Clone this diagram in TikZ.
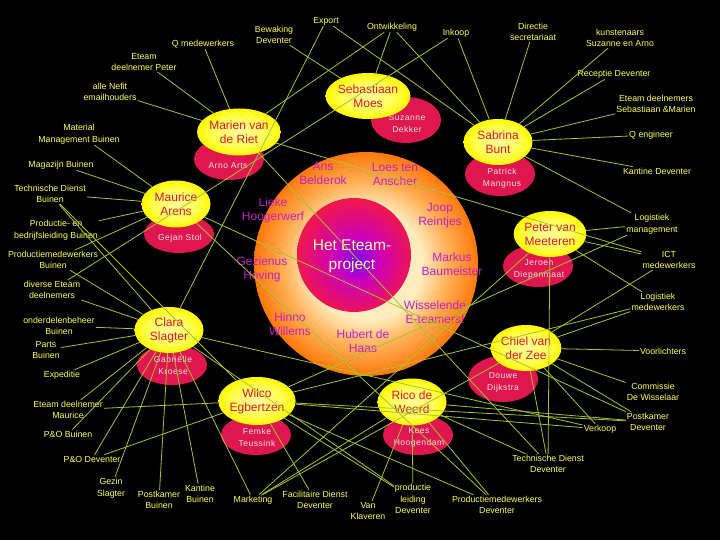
\documentclass[tikz,border=0pt]{standalone}
\usepackage{fontspec}
\setmainfont{Liberation Sans}
\newfontfamily\spaced[LetterSpace=6]{Liberation Sans}
\usetikzlibrary{shapes.geometric}
\definecolor{lbl}{RGB}{255,255,70}
\definecolor{lnk}{RGB}{165,195,45}
\definecolor{crim}{RGB}{224,22,78}
\definecolor{nametxt}{RGB}{225,20,50}
\definecolor{pinktxt}{RGB}{255,228,236}
\definecolor{perscol}{RGB}{195,30,200}
\definecolor{hubtxt}{RGB}{255,255,170}
\definecolor{ringin}{RGB}{255,236,190}
\definecolor{ringmid}{RGB}{255,175,85}
\definecolor{ringout}{RGB}{255,120,10}
\definecolor{corein}{RGB}{125,0,245}
\definecolor{coremid}{RGB}{205,0,185}
\definecolor{coreout}{RGB}{238,22,80}
\definecolor{yelin}{RGB}{255,255,150}
\definecolor{yelmid}{RGB}{255,255,90}
\definecolor{yelout}{RGB}{255,248,0}
\pgfdeclareradialshading{ringshade}{\pgfpoint{0bp}{0bp}}{color(0bp)=(ringin); color(12.5bp)=(ringin); color(18.5bp)=(ringmid); color(25bp)=(ringout); color(50bp)=(ringout)}
\pgfdeclareradialshading{coreshade}{\pgfpoint{1.5bp}{-2.5bp}}{color(0bp)=(corein); color(10bp)=(coremid); color(25bp)=(coreout); color(50bp)=(coreout)}
\pgfdeclareradialshading{yelshade}{\pgfpoint{0bp}{0bp}}{color(0bp)=(yelin); color(15bp)=(yelmid); color(25bp)=(yelout); color(50bp)=(yelout)}
\begin{document}
\begin{tikzpicture}[x=1pt, y=-1pt,
	mem/.style = {ellipse, minimum width=69pt, minimum height=46pt, inner sep=0pt, shade, shading=yelshade, text=nametxt, align=center, font=\fontsize{12}{14}\selectfont},
	sub/.style = {ellipse, minimum width=70pt, minimum height=42pt, inner sep=0pt, fill=crim},
	subtxt/.style = {text=pinktxt, align=center, font=\spaced\fontsize{8.5}{12}\selectfont},
	pers/.style = {text=perscol, align=center, font=\fontsize{12}{14}\selectfont},
	lab/.style = {text=lbl, align=center, inner sep=1pt, font=\fontsize{8.8}{11.5}\selectfont}]

	\fill [black, use as bounding box] (0,0) rectangle (720,540);

	\node [circle, minimum size=224pt, inner sep=0pt, shade, shading=ringshade] (ring) at (366,264) {};
	\node [circle, minimum size=114pt, inner sep=0pt, shade, shading=coreshade] (core) at (354,255) {};
	\node [text=hubtxt, align=center, font=\fontsize{15.5}{19}\selectfont] (hub) at (352,256) {Het Eteam-\\project};

	\node [pers] (ans) at (323,173) {Ans\\Belderok};
	\node [pers] (loes) at (395,174) {Loes ten\\Anscher};
	\node [pers] (lieke) at (273,210) {Lieke\\Hoogerwerf};
	\node [pers] (joop) at (440,216) {Joop\\Reintjes};
	\node [pers] (gezienus) at (262,269) {Gezienus\\Hoving};
	\node [pers] (markus) at (452,264) {Markus\\Baumeister};
	\node [pers] (hinno) at (290,324) {Hinno\\Willems};
	\node [pers] (wissel) at (435,312) {Wisselende\\E-teamers!};
	\node [pers] (hubert) at (363,341) {Hubert de\\Haas};

	\node [sub] (marienB) at (229,159) {};
	\node [sub, minimum height=46pt] (sebB) at (406,120) {};
	\node [sub, minimum height=44pt] (sabB) at (500,174) {};
	\node [sub, minimum height=38pt] (maurB) at (179,234) {};
	\node [sub] (peterB) at (538,266) {};
	\node [sub, minimum height=40pt] (claraB) at (172,365) {};
	\node [sub, minimum height=46pt] (chielB) at (503,379) {};
	\node [sub, minimum height=40pt] (wilcoB) at (256,435) {};
	\node [sub, minimum height=40pt] (ricoB) at (418,435) {};

	\node [subtxt] (arno) at (228,166) {Arno Arts};
	\node [subtxt] (suzanne) at (407,124) {Suzanne\\Dekker};
	\node [subtxt] (patrick) at (502,178) {Patrick\\Mangnus};
	\node [subtxt] (gejan) at (180,238) {Gejan Stol};
	\node [subtxt] (jeroen) at (539,269) {Jeroen\\Diepenmaat};
	\node [subtxt] (gabrielle) at (173,365) {Gabriëlle\\Kroese};
	\node [subtxt] (douwe) at (503,382) {Douwe\\Dijkstra};
	\node [subtxt] (femke) at (257,437) {Femke\\Teussink};
	\node [subtxt] (kees) at (419,437) {Kees\\Hoogendam};

	\node [mem, minimum height=47pt] (marien) at (239,132) {Marien van\\de Riet};
	\node [mem] (sebastiaan) at (368,96) {Sebastiaan\\Moes};
	\node [mem] (sabrina) at (498,142) {Sabrina\\Bunt};
	\node [mem, minimum height=47pt] (maurice) at (176,204) {Maurice\\Arens};
	\node [mem] (peter) at (550,234) {Peter van\\Meeteren};
	\node [mem] (clara) at (169,330) {Clara\\Slagter};
	\node [mem] (chiel) at (526,348) {Chiel van\\der Zee};
	\node [mem, minimum height=48pt] (wilco) at (257,401) {Wilco\\Egbertzen};
	\node [mem, minimum height=47pt] (rico) at (412,402) {Rico de\\Weerd};

	\node [lab] (qmed) at (203,44) {Q medewerkers};
	\node [lab] (epeter) at (144,62) {Eteam\\deelnemer Peter};
	\node [lab] (nefit) at (110,92) {alle Nefit\\emailhouders};
	\node [lab] (matman) at (79,134) {Material\\Management Buinen};
	\node [lab] (magaz) at (61,165) {Magazijn Buinen};
	\node [lab] (tdbui) at (50,194) {Technische Dienst\\Buinen};
	\node [lab] (prodbed) at (56,230) {Productie- en\\bedrijfsleiding Buinen};
	\node [lab] (pmbui) at (53,260) {Productiemedewerkers\\Buinen};
	\node [lab] (divers) at (52,290) {diverse Eteam\\deelnemers};
	\node [lab] (onderd) at (59,326) {onderdelenbeheer\\Buinen};
	\node [lab] (parts) at (46,350) {Parts\\Buinen};
	\node [lab] (exped) at (62,375) {Expeditie};
	\node [lab] (emaur) at (68,410) {Eteam deelnemer\\Maurice};
	\node [lab] (pobui) at (68,434) {P\&O Buinen};
	\node [lab] (podev) at (92,459) {P\&O Deventer};
	\node [lab] (gezin) at (111,488) {Gezin\\Slagter};
	\node [lab] (postbui) at (159,500) {Postkamer\\Buinen};
	\node [lab] (kantbui) at (200,494) {Kantine\\Buinen};
	\node [lab] (market) at (253,500) {Marketing};
	\node [lab] (facil) at (315,500) {Facilitaire Dienst\\Deventer};
	\node [lab] (klav) at (368,511) {Van\\Klaveren};
	\node [lab] (prodl) at (413,499) {productie\\leiding\\Deventer};
	\node [lab] (pmdev) at (497,505) {Productiemedewerkers\\Deventer};
	\node [lab] (tddev) at (548,464) {Technische Dienst\\Deventer};
	\node [lab] (verk) at (600,429) {Verkoop};
	\node [lab] (postdev) at (648,422) {Postkamer\\Deventer};
	\node [lab] (commis) at (653,392) {Commissie\\De Wisselaar};
	\node [lab] (voorl) at (663,351) {Voorlichters};
	\node [lab] (logmed) at (658,302) {Logistiek\\medewerkers};
	\node [lab] (ict) at (669,260) {ICT\\medewerkers};
	\node [lab] (logman) at (652,224) {Logistiek\\management};
	\node [lab] (kantdev) at (657,171) {Kantine Deventer};
	\node [lab] (qeng) at (651,135) {Q engineer};
	\node [lab] (esm) at (656,104) {Eteam deelnemers\\Sebastiaan \&Marien};
	\node [lab] (recep) at (614,74) {Receptie Deventer};
	\node [lab] (kunst) at (620,38) {kunstenaars\\Suzanne en Arno};
	\node [lab] (direc) at (533,32) {Directie\\secretariaat};
	\node [lab] (inkoop) at (456,33) {Inkoop};
	\node [lab] (ontw) at (392,27) {Ontwikkeling};
	\node [lab] (export) at (326,21) {Export};
	\node [lab] (bewak) at (274,35) {Bewaking\\Deventer};

	\begin{scope}[draw=lnk, line width=0.8pt]
		\foreach \lb in {qmed,epeter,nefit,ontw,ict,tddev} \draw (marien) -- (\lb);
		\foreach \lb in {bewak,ontw} \draw (sebastiaan) -- (\lb);
		\foreach \lb in {direc,kunst,recep,esm,qeng,kantdev,logman,inkoop,export,ontw} \draw (sabrina) -- (\lb);
		\foreach \lb in {matman,magaz,tdbui,prodbed,pmbui,postdev,pmdev} \draw (maurice) -- (\lb);
		\foreach \lb in {logman,ict,logmed,tddev,market} \draw (peter) -- (\lb);
		\foreach \lb in {tdbui,pmbui,divers,onderd,parts,exped,emaur,pobui,podev,gezin,postbui,kantbui,market,export,verk,prodl} \draw (clara) -- (\lb);
		\foreach \lb in {voorl,commis,postdev,verk,tddev,ict,logmed,market} \draw (chiel) -- (\lb);
		\foreach \lb in {emaur,podev,facil,prodl,postdev,pmdev,logman,logmed,tdbui,verk} \draw (wilco) -- (\lb);
		\foreach \lb in {klav,prodl,pmdev,tddev,postdev,market} \draw (rico) -- (\lb);
		\draw (inkoop) -- (divers);
	\end{scope}
\end{tikzpicture}
\end{document}
